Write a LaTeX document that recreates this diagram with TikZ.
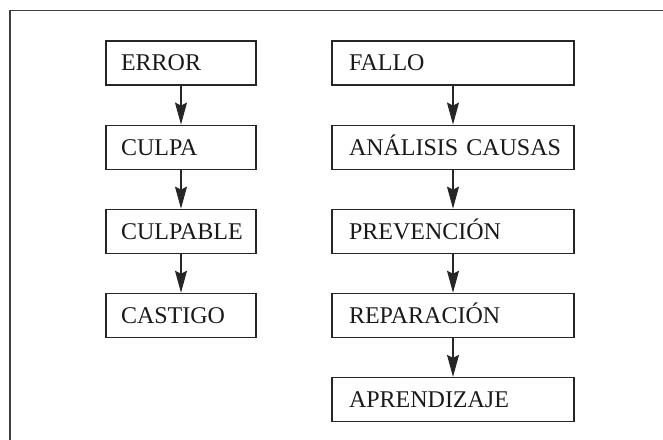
\documentclass[tikz,border=0pt]{standalone}
\usepackage{fontspec}
\setmainfont{Liberation Serif}
\usetikzlibrary{positioning,arrows.meta}

\begin{document}
\begin{tikzpicture}[
  x=1bp, y=-1bp,
  line join=miter,
  frame/.style={line width=1.6bp, draw=black!75},
  box/.style={draw=black!85, line width=1.1bp, minimum height=44bp,
    inner ysep=0pt, text height=16bp, text depth=0pt,
    align=left, font=\fontsize{24bp}{28bp}\selectfont, text=black!90},
  leftbox/.style={box, inner xsep=15bp, text width=120bp},
  rightbox/.style={box, inner xsep=17bp, text width=208bp},
  flow/.style={line width=1.1bp, draw=black!85,
    -{Stealth[length=22bp, width=12bp, inset=3bp]}},
  node distance=39bp,
]
\useasboundingbox (0,0) rectangle (663,440);

% ── the frame: only its top and left edges fall inside the page ──────────
\draw[frame] (10,440) -- (10,10.5) -- (663,10.5);

% ── left column: error, blame, punishment ──────────────────────────────
\node[leftbox] (error) at (181,63) {ERROR};
\node[leftbox, below=of error]    (culpa)    {CULPA};
\node[leftbox, below=of culpa]    (culpable) {CULPABLE};
\node[leftbox, below=of culpable] (castigo)  {CASTIGO};

% ── right column: failure, causes, learning ────────────────────────────
\node[rightbox] (fallo) at (453,63) {FALLO};
\node[rightbox, below=of fallo]      (analisis)    {ANÁLISIS~CAUSAS};
\node[rightbox, below=of analisis]   (prevencion)  {PREVENCIÓN};
\node[rightbox, below=of prevencion] (reparacion)  {REPARACIÓN};
\node[rightbox, below=of reparacion] (aprendizaje) {APRENDIZAJE};

\draw[flow] (error) -- (culpa);
\draw[flow] (culpa) -- (culpable);
\draw[flow] (culpable) -- (castigo);

\draw[flow] (fallo) -- (analisis);
\draw[flow] (analisis) -- (prevencion);
\draw[flow] (prevencion) -- (reparacion);
\draw[flow] (reparacion) -- (aprendizaje);

\end{tikzpicture}
\end{document}
